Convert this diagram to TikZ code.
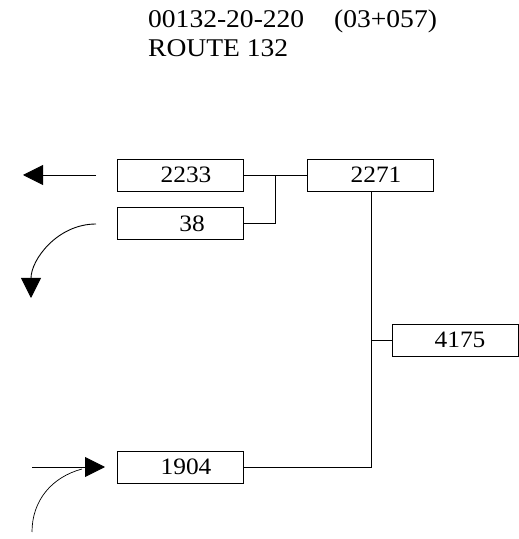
\documentclass[tikz,border=0pt]{standalone}
\usepackage{fontspec}
\setmainfont{Liberation Serif}[FakeStretch=1.08]
\usetikzlibrary{arrows.meta}
\tikzset{
  box/.style={draw, line width=0.9pt, minimum width=126pt, minimum height=32pt, inner sep=0pt, font=\fontsize{23.5}{26}\selectfont},
  conn/.style={line width=0.9pt},
  arr/.style={line width=0.9pt, -{Triangle[length=20pt,width=20pt]}},
  title/.style={anchor=base west, inner sep=0pt, font=\fontsize{25.5}{29}\selectfont}
}
\begin{document}
\begin{tikzpicture}[x=1pt,y=1pt]
\useasboundingbox (0,0) rectangle (519,539);
\node[title] (t1) at (148,511) {00132-20-220\hspace{30pt}(03+057)};
\node[title] (t2) at (148,482) {ROUTE 132};
\node[box] (b2233) at (180,364) {\hspace*{12pt}2233};
\node[box] (b38) at (180,315.5) {\hspace*{24pt}38};
\node[box] (b2271) at (370,364) {\hspace*{12pt}2271};
\node[box] (b4175) at (455,199) {\hspace*{10pt}4175};
\node[box] (b1904) at (180,72) {\hspace*{12pt}1904};
\coordinate (j1) at (275,364);
\coordinate (j2) at (371,199);
\coordinate (j3) at (371,72);
\draw[conn] (b2233.east) -- (b2271.west);
\draw[conn] (b38.east) -| (j1);
\draw[conn] (b2271.south -| j3) -- (j3) -- (b1904.east);
\draw[conn] (j2) -- (b4175.west);
% arrows on the left
\coordinate (a1s) at (96,364);
\coordinate (a1e) at (23,364);
\draw[arr] (a1s) -- (a1e);
\coordinate (a2s) at (96,315);
\coordinate (a2e) at (31,241);
\draw[arr] (a2s) to[out=180,in=90] (a2e);
\coordinate (a3s) at (32,72);
\coordinate (a3e) at (105,72);
\draw[arr] (a3s) -- (a3e);
\coordinate (a4s) at (32,7);
\coordinate (a4e) at (82,70);
\draw[conn, line width=0.7pt] (a4s) to[out=90,in=195] (a4e);
\end{tikzpicture}
\end{document}
